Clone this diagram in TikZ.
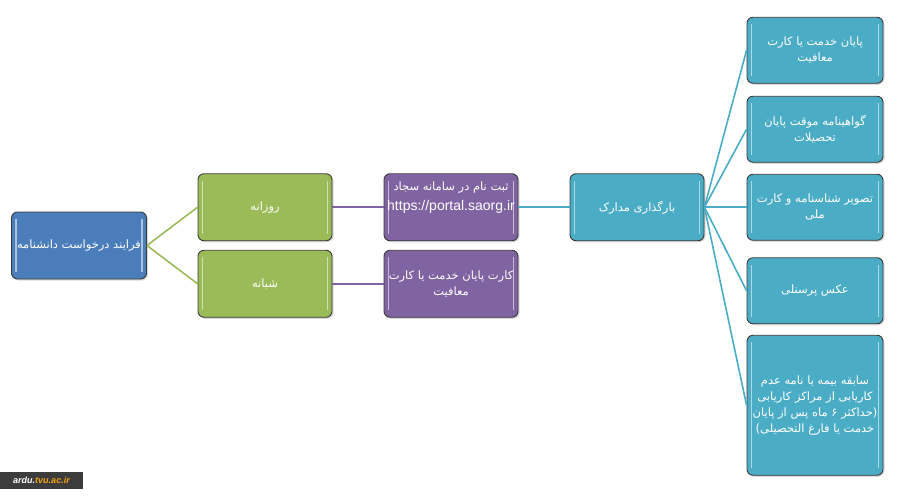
\documentclass[tikz,border=0pt]{standalone}
\usepackage{fontspec}
\setmainfont{Liberation Sans}
\newfontfamily\arabicfont[Script=Arabic]{DejaVu Sans}
\TeXXeTstate=1
\usetikzlibrary{shadows}

\definecolor{rootblue}{HTML}{4A7DBA}
\definecolor{leafgreen}{HTML}{9BBB59}
\definecolor{regpurple}{HTML}{8064A2}
\definecolor{doccyan}{HTML}{4BACC6}
\definecolor{boxline}{HTML}{3A3A3A}
\definecolor{wmgray}{HTML}{3C3C3C}
\definecolor{wmorange}{HTML}{F2A516}

\newcommand{\fa}[1]{{\arabicfont\beginR #1\endR}}

\tikzset{
  box/.style={draw=boxline, line width=0.9pt, rounded corners=6pt,
    minimum width=135pt, minimum height=67pt, inner sep=1pt,
    align=center, text=white, font=\fontsize{11.5}{16}\selectfont,
    drop shadow={shadow xshift=1.5pt, shadow yshift=-1.5pt, opacity=0.3},
    path picture={
      \draw[white, opacity=0.55, line width=1.4pt]
        ([xshift=4.5pt,yshift=-7pt]path picture bounding box.north west) --
        ([xshift=4.5pt,yshift=7pt]path picture bounding box.south west)
        ([xshift=-4.5pt,yshift=-7pt]path picture bounding box.north east) --
        ([xshift=-4.5pt,yshift=7pt]path picture bounding box.south east);
    }},
  rootbox/.style={box, fill=rootblue},
  greenbox/.style={box, fill=leafgreen, minimum width=134pt},
  purplebox/.style={box, fill=regpurple, minimum width=134pt},
  cyanbox/.style={box, fill=doccyan, minimum width=134pt},
  docbox/.style={box, fill=doccyan, minimum width=136pt, minimum height=66pt}
}

\begin{document}
\begin{tikzpicture}[
    x=1pt, y=-1pt,
    grow'=right,
    edge from parent path={(\tikzparentnode.east) -- (\tikzchildnode.west)},
    level 1/.style={level distance=186pt, sibling distance=76.5pt,
      edge from parent/.style={draw=leafgreen, line width=1.6pt}},
    level 2/.style={level distance=186pt,
      edge from parent/.style={draw=regpurple, line width=1.6pt}},
    level 3/.style={level distance=186pt,
      edge from parent/.style={draw=doccyan, line width=1.6pt}},
    level 4/.style={level distance=178pt, sibling distance=80pt,
      edge from parent/.style={draw=doccyan, line width=1.6pt}}
  ]
  \useasboundingbox (0,0) rectangle (900,498);

  % Root node
  \node[rootbox] (root) at (79,245.5) {\fa{فرایند درخواست دانشنامه}}
    % Day course
    child { node[greenbox] (day) {\fa{روزانه}}
      child { node[purplebox] (sajad) {\fa{ثبت نام در سامانه سجاد}\\[4pt]
          {\fontsize{14}{16}\selectfont https://portal.saorg.ir}\\[6pt]\mbox{}}
        child { node[cyanbox] (upload) {\fa{بارگذاری مدارک}}
          child { node[docbox, yshift=-3pt] (service) {\fa{پایان خدمت یا کارت}\\\fa{معافیت}} }
          child { node[docbox, yshift=-2pt] (certificate) {\fa{گواهینامه موقت پایان}\\\fa{تحصیلات}} }
          child { node[docbox] (idcard) {\fa{تصویر شناسنامه و کارت}\\\fa{ملی}} }
          child { node[docbox, yshift=-3.5pt] (photo) {\fa{عکس پرسنلی}} }
          child { node[docbox, minimum height=140pt, yshift=-38pt] (insurance)
            {\fa{سابقه بیمه یا نامه عدم}\\\fa{کاریابی از مراکز کاریابی}\\
             \fa{(حداکثر ۶ ماه پس از پایان}\\\fa{خدمت یا فارغ التحصیلی)}} }
        }
      }
    }
    % Night course
    child { node[greenbox] (night) {\fa{شبانه}}
      child { node[purplebox] (servicecard) {\fa{کارت پایان خدمت یا کارت}\\\fa{معافیت}} }
    };

  % Site mark
  \node[fill=wmgray, minimum width=83pt, minimum height=17pt, inner sep=0pt,
    font=\bfseries\itshape\fontsize{9}{10}\selectfont] (mark) at (41.5,480.5)
    {\textcolor{white}{ardu.}\textcolor{wmorange}{tvu.ac.ir}};
\end{tikzpicture}
\end{document}
